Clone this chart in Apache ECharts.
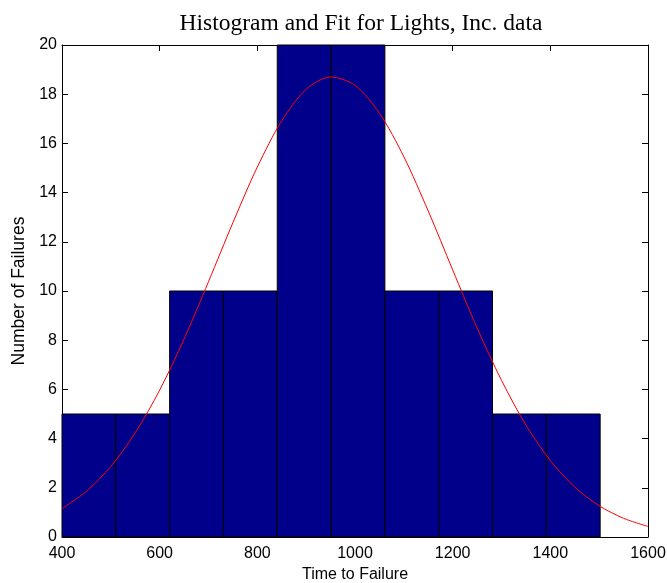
<!DOCTYPE html>
<html>
<head>
<meta charset="utf-8">
<script src="https://cdn.jsdelivr.net/npm/echarts@6/dist/echarts.min.js"></script>
<style>html,body{margin:0;padding:0;background:#fff;overflow:hidden;}#main{width:667px;height:583px;}</style>
</head>
<body>
<div id="main"></div>
<script>
// Histogram bin edges (Time to Failure) and counts
const binEdges = [400, 510.2, 620.4, 730.6, 840.8, 951, 1061.2, 1171.4, 1281.6, 1391.8, 1502];
const binCounts = [5, 5, 10, 10, 20, 20, 10, 10, 5, 5];
// Fitted curve
const fitX = [400, 450, 500, 550, 600, 650, 700, 750, 800, 850, 900, 950, 1000, 1050, 1100, 1150, 1200, 1250, 1300, 1350, 1400, 1450, 1500, 1550, 1600];
const fitY = [1.15, 1.86, 2.87, 4.24, 5.97, 8.05, 10.38, 12.78, 15.04, 16.92, 18.20, 18.70, 18.36, 17.23, 15.46, 13.25, 10.86, 8.50, 6.37, 4.55, 3.11, 2.03, 1.27, 0.76, 0.43];
const xTicks = [400, 600, 800, 1000, 1200, 1400, 1600];
const yTicks = [0, 2, 4, 6, 8, 10, 12, 14, 16, 18, 20];

const barData = binCounts.map((c, i) => [binEdges[i], binEdges[i + 1], c]);
const lineData = fitX.map((x, i) => [x, fitY[i]]);

const chart = echarts.init(document.getElementById('main'), null, {renderer: 'canvas'});
const sans = 'Liberation Sans, Arial, Helvetica, sans-serif';
const axisLineStyle = {color: '#000', width: 1};
const tickCommon = {show: true, inside: true, length: 6, lineStyle: {color: '#000', width: 1}};

chart.setOption({
  animation: false,
  backgroundColor: '#fff',
  title: {
    text: 'Histogram and Fit for Lights, Inc. data',
    left: 356, top: 7, textAlign: 'center',
    textStyle: {fontFamily: 'Liberation Serif, Times New Roman, serif', fontSize: 23.5, fontWeight: 'normal', color: '#000'}
  },
  grid: {left: 62, right: 19, top: 45, bottom: 46, containLabel: false, outerBoundsMode: 'none'},
  xAxis: [{
    type: 'value', min: xTicks[0], max: xTicks[xTicks.length - 1], interval: 200,
    position: 'bottom',
    name: 'Time to Failure', nameLocation: 'middle', nameGap: 30,
    nameTextStyle: {fontFamily: sans, fontSize: 16, color: '#000'},
    axisLine: {show: true, onZero: false, lineStyle: axisLineStyle},
    axisTick: tickCommon,
    axisLabel: {fontFamily: sans, fontSize: 16, color: '#000', margin: 9, formatter: v => String(v)},
    splitLine: {show: false}
  }, {
    type: 'value', min: xTicks[0], max: xTicks[xTicks.length - 1], interval: 200,
    position: 'top',
    axisLine: {show: true, onZero: false, lineStyle: axisLineStyle},
    axisTick: tickCommon,
    axisLabel: {show: false},
    splitLine: {show: false}
  }],
  yAxis: [{
    type: 'value', min: yTicks[0], max: yTicks[yTicks.length - 1], interval: 2,
    position: 'left',
    name: 'Number of Failures', nameLocation: 'middle', nameGap: 27,
    nameTextStyle: {fontFamily: sans, fontSize: 17.5, color: '#000'},
    axisLine: {show: true, onZero: false, lineStyle: axisLineStyle},
    axisTick: tickCommon,
    axisLabel: {fontFamily: sans, fontSize: 16, color: '#000', margin: 5, formatter: v => String(v)},
    splitLine: {show: false}
  }, {
    type: 'value', min: yTicks[0], max: yTicks[yTicks.length - 1], interval: 2,
    position: 'right',
    axisLine: {show: true, onZero: false, lineStyle: axisLineStyle},
    axisTick: tickCommon,
    axisLabel: {show: false},
    splitLine: {show: false}
  }],
  series: [{
    type: 'custom',
    xAxisIndex: 0, yAxisIndex: 0,
    data: barData,
    encode: {x: [0, 1], y: 2},
    z: 2,
    renderItem: function (params, api) {
      const x0 = api.value(0), x1 = api.value(1), v = api.value(2);
      const p0 = api.coord([x0, 0]);
      const p1 = api.coord([x1, v]);
      return {
        type: 'rect',
        shape: {x: p0[0], y: p1[1], width: p1[0] - p0[0], height: p0[1] - p1[1]},
        style: {fill: '#00008B', stroke: '#000', lineWidth: 1}
      };
    }
  }, {
    type: 'line',
    xAxisIndex: 0, yAxisIndex: 0,
    data: lineData,
    smooth: 0.3,
    showSymbol: false,
    z: 5,
    lineStyle: {color: '#ff0000', width: 1}
  }]
});
</script>
</body>
</html>
